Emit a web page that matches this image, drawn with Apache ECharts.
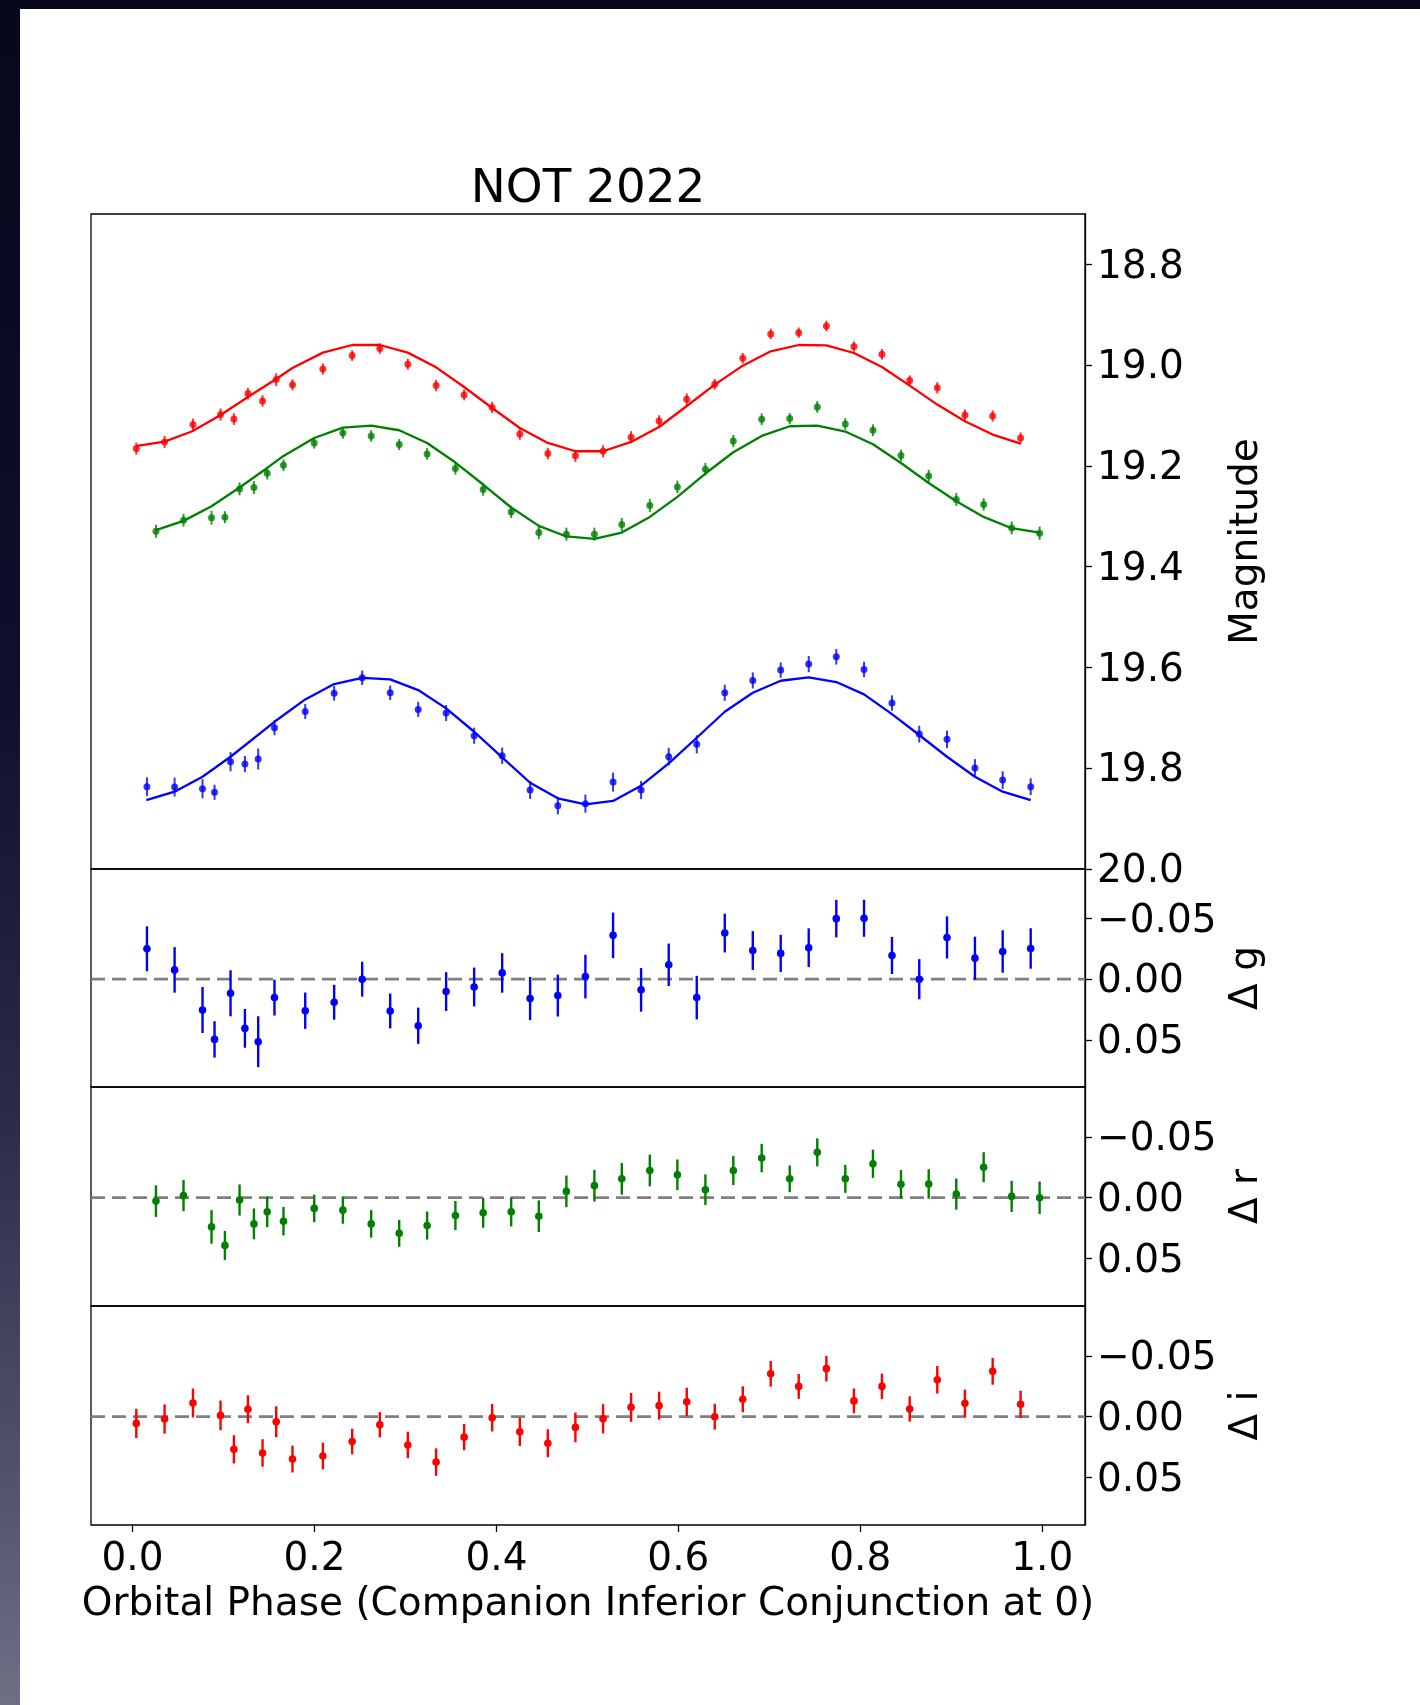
<!DOCTYPE html>
<html>
<head>
<meta charset="utf-8">
<title>NOT 2022 light curves</title>
<script src="https://cdn.jsdelivr.net/npm/echarts@6/dist/echarts.min.js"></script>
<style>
  html, body { margin: 0; padding: 0; background: #ffffff; }
  #chart { width: 1420px; height: 1705px; }
</style>
</head>
<body>
<div id="chart"></div>
<script>
// ---- g band (blue) ----
const gPhase = [0.0158, 0.0462, 0.0769, 0.0901, 0.1077, 0.1235, 0.1381, 0.1560, 0.1898, 0.2216, 0.2524, 0.2832, 0.3140, 0.3447, 0.3755, 0.4063, 0.4370, 0.4675, 0.4978, 0.5282, 0.5590, 0.5894, 0.6202, 0.6510, 0.6818, 0.7125, 0.7433, 0.7736, 0.8041, 0.8348, 0.8648, 0.8953, 0.9260, 0.9565, 0.9873];
const gMag = [19.8367, 19.8373, 19.8406, 19.8478, 19.7871, 19.7917, 19.7817, 19.7197, 19.6872, 19.6514, 19.6205, 19.6503, 19.6832, 19.6906, 19.7355, 19.7752, 19.8432, 19.8743, 19.8703, 19.8275, 19.8432, 19.7771, 19.7526, 19.6503, 19.6258, 19.6052, 19.5933, 19.5789, 19.6039, 19.6707, 19.7322, 19.7427, 19.7996, 19.8234, 19.8367];
const gErr = [0.0186, 0.0188, 0.0190, 0.0150, 0.0190, 0.0160, 0.0210, 0.0148, 0.0150, 0.0144, 0.0144, 0.0144, 0.0150, 0.0160, 0.0160, 0.0163, 0.0178, 0.0173, 0.0180, 0.0188, 0.0180, 0.0175, 0.0180, 0.0160, 0.0160, 0.0153, 0.0160, 0.0155, 0.0153, 0.0153, 0.0166, 0.0174, 0.0177, 0.0175, 0.0167];
const gResid = [-0.0251, -0.0077, 0.0254, 0.0497, 0.0116, 0.0406, 0.0516, 0.0152, 0.0260, 0.0190, 0.0000, 0.0262, 0.0384, 0.0102, 0.0064, -0.0052, 0.0160, 0.0135, -0.0022, -0.0362, 0.0088, -0.0119, 0.0152, -0.0381, -0.0237, -0.0213, -0.0260, -0.0500, -0.0503, -0.0196, 0.0000, -0.0345, -0.0174, -0.0229, -0.0254];
const gModelPhase = [0.0151, 0.0462, 0.0769, 0.1077, 0.1560, 0.1898, 0.2216, 0.2524, 0.2832, 0.3140, 0.3447, 0.3755, 0.4063, 0.4370, 0.4675, 0.4978, 0.5282, 0.5590, 0.5894, 0.6202, 0.6510, 0.6818, 0.7125, 0.7433, 0.7736, 0.8041, 0.8348, 0.8648, 0.8953, 0.9260, 0.9565, 0.9873];
const gModelMag = [19.8631, 19.8466, 19.8169, 19.7772, 19.7078, 19.6634, 19.6330, 19.6205, 19.6237, 19.6449, 19.6812, 19.7276, 19.7784, 19.8288, 19.8598, 19.8717, 19.8650, 19.8347, 19.7903, 19.7395, 19.6879, 19.6503, 19.6264, 19.6197, 19.6290, 19.6534, 19.6925, 19.7341, 19.7772, 19.8169, 19.8466, 19.8631];

// ---- r band (green) ----
const rPhase = [0.0257, 0.0560, 0.0868, 0.1015, 0.1176, 0.1334, 0.1480, 0.1659, 0.1997, 0.2312, 0.2623, 0.2931, 0.3238, 0.3549, 0.3854, 0.4162, 0.4466, 0.4769, 0.5077, 0.5378, 0.5686, 0.5989, 0.6297, 0.6604, 0.6916, 0.7224, 0.7527, 0.7835, 0.8139, 0.8447, 0.8752, 0.9055, 0.9356, 0.9664, 0.9971];
const rMag = [19.3296, 19.3077, 19.3030, 19.3018, 19.2456, 19.2429, 19.2145, 19.1987, 19.1544, 19.1346, 19.1405, 19.1576, 19.1762, 19.2052, 19.2469, 19.2913, 19.3322, 19.3355, 19.3355, 19.3163, 19.2786, 19.2417, 19.2066, 19.1504, 19.1074, 19.1061, 19.0830, 19.1167, 19.1292, 19.1794, 19.2199, 19.2667, 19.2766, 19.3230, 19.3335];
const rErr = [0.0130, 0.0128, 0.0138, 0.0119, 0.0128, 0.0127, 0.0126, 0.0117, 0.0113, 0.0112, 0.0113, 0.0110, 0.0115, 0.0120, 0.0123, 0.0120, 0.0130, 0.0130, 0.0130, 0.0130, 0.0130, 0.0126, 0.0126, 0.0120, 0.0117, 0.0110, 0.0115, 0.0115, 0.0116, 0.0117, 0.0121, 0.0128, 0.0123, 0.0128, 0.0133];
const rResid = [0.0028, -0.0017, 0.0240, 0.0392, 0.0019, 0.0215, 0.0116, 0.0193, 0.0088, 0.0102, 0.0215, 0.0293, 0.0229, 0.0146, 0.0124, 0.0116, 0.0152, -0.0052, -0.0099, -0.0155, -0.0224, -0.0188, -0.0066, -0.0224, -0.0326, -0.0155, -0.0373, -0.0155, -0.0279, -0.0110, -0.0113, -0.0030, -0.0251, -0.0011, 0.0000];
const rModelPhase = [0.0257, 0.0560, 0.0868, 0.1176, 0.1480, 0.1659, 0.1997, 0.2312, 0.2623, 0.2931, 0.3238, 0.3549, 0.3854, 0.4162, 0.4466, 0.4769, 0.5077, 0.5378, 0.5686, 0.5989, 0.6297, 0.6604, 0.6916, 0.7224, 0.7527, 0.7835, 0.8139, 0.8447, 0.8752, 0.9055, 0.9356, 0.9664, 0.9971];
const rModelMag = [19.3276, 19.3091, 19.2800, 19.2429, 19.2040, 19.1802, 19.1445, 19.1239, 19.1200, 19.1292, 19.1544, 19.1933, 19.2369, 19.2825, 19.3190, 19.3400, 19.3448, 19.3322, 19.3012, 19.2615, 19.2151, 19.1729, 19.1405, 19.1213, 19.1200, 19.1318, 19.1570, 19.1941, 19.2338, 19.2700, 19.3012, 19.3236, 19.3322];

// ---- i band (red) ----
const iPhase = [0.0041, 0.0352, 0.0664, 0.0967, 0.1114, 0.1268, 0.1429, 0.1579, 0.1758, 0.2092, 0.2414, 0.2718, 0.3026, 0.3337, 0.3645, 0.3953, 0.4257, 0.4565, 0.4868, 0.5172, 0.5480, 0.5788, 0.6092, 0.6400, 0.6708, 0.7015, 0.7323, 0.7627, 0.7930, 0.8238, 0.8543, 0.8846, 0.9150, 0.9455, 0.9762];
const iMag = [19.1656, 19.1524, 19.1180, 19.0980, 19.1070, 19.0565, 19.0710, 19.0287, 19.0390, 19.0076, 18.9810, 18.9670, 18.9980, 19.0406, 19.0590, 19.0840, 19.1366, 19.1755, 19.1800, 19.1709, 19.1430, 19.1108, 19.0678, 19.0380, 18.9864, 18.9380, 18.9355, 18.9223, 18.9630, 18.9785, 19.0307, 19.0450, 19.0990, 19.1009, 19.1445];
const iErr = [0.0120, 0.0120, 0.0119, 0.0122, 0.0116, 0.0115, 0.0113, 0.0127, 0.0110, 0.0110, 0.0105, 0.0104, 0.0109, 0.0113, 0.0108, 0.0113, 0.0117, 0.0115, 0.0122, 0.0120, 0.0119, 0.0115, 0.0116, 0.0106, 0.0106, 0.0106, 0.0102, 0.0105, 0.0102, 0.0105, 0.0104, 0.0113, 0.0112, 0.0110, 0.0112];
const iResid = [0.0055, 0.0019, -0.0113, -0.0011, 0.0268, -0.0061, 0.0298, 0.0041, 0.0348, 0.0323, 0.0204, 0.0066, 0.0232, 0.0373, 0.0168, 0.0008, 0.0124, 0.0218, 0.0088, 0.0017, -0.0077, -0.0091, -0.0122, 0.0000, -0.0144, -0.0353, -0.0249, -0.0395, -0.0130, -0.0249, -0.0064, -0.0304, -0.0110, -0.0373, -0.0102];
const iModelPhase = [0.0048, 0.0352, 0.0656, 0.0964, 0.1268, 0.1579, 0.1758, 0.2092, 0.2414, 0.2718, 0.3026, 0.3337, 0.3645, 0.3953, 0.4257, 0.4565, 0.4868, 0.5172, 0.5480, 0.5788, 0.6092, 0.6400, 0.6708, 0.7015, 0.7323, 0.7627, 0.7930, 0.8238, 0.8543, 0.8846, 0.9150, 0.9455, 0.9762];
const iModelMag = [19.1603, 19.1517, 19.1312, 19.0995, 19.0632, 19.0275, 19.0057, 18.9751, 18.9600, 18.9600, 18.9751, 19.0043, 19.0433, 19.0850, 19.1247, 19.1544, 19.1709, 19.1709, 19.1524, 19.1227, 19.0810, 19.0386, 19.0010, 18.9726, 18.9600, 18.9606, 18.9759, 19.0036, 19.0406, 19.0783, 19.1114, 19.1378, 19.1556];

// ---- axis ticks and labels ----
const phaseTicks = [0.0, 0.2, 0.4, 0.6, 0.8, 1.0];
const magTicks = [18.8, 19.0, 19.2, 19.4, 19.6, 19.8, 20.0];
const residTicks = [-0.05, 0.0, 0.05];
const residNames = ['\u0394 g', '\u0394 r', '\u0394 i'];

const FONT = 'DejaVu Sans';
const FS = 39;
const X_MIN = -0.0457, X_MAX = 1.047;
const MAG_MIN = 18.70, MAG_MAX = 20.0;
const RES_MIN = -0.091, RES_MAX = 0.089;

const PLOT_LEFT = 91, PLOT_RIGHT = 1085;
const panels = [
  { top: 214, bottom: 869 },
  { top: 869, bottom: 1087 },
  { top: 1087, bottom: 1306 },
  { top: 1306, bottom: 1525 }
];

const C_BLUE = '#0000ff', C_GREEN = '#008000', C_RED = '#ff0000';
const A_BLUE = 'rgba(0,0,255,0.8)', A_GREEN = 'rgba(0,128,0,0.8)', A_RED = 'rgba(255,0,0,0.8)';

const chart = echarts.init(document.getElementById('chart'), null, { renderer: 'canvas' });

const grids = panels.map(p => ({
  left: PLOT_LEFT, width: PLOT_RIGHT - PLOT_LEFT,
  top: p.top, height: p.bottom - p.top,
  show: true, borderColor: '#000', borderWidth: 1.3,
  backgroundColor: 'transparent', containLabel: false
}));

const xAxes = panels.map((p, k) => {
  const last = k === panels.length - 1;
  return {
    type: 'value', gridIndex: k, min: X_MIN, max: X_MAX,
    axisLine: { show: false, onZero: false },
    splitLine: { show: false },
    axisTick: { show: last, length: 7, lineStyle: { color: '#000', width: 1.3 }, customValues: phaseTicks },
    axisLabel: {
      show: last, customValues: phaseTicks, margin: 15,
      fontFamily: FONT, fontSize: FS, color: '#000',
      formatter: v => v.toFixed(1)
    }
  };
});

// tick text sits a little below the tick centre
const tickRich = { t: { fontFamily: FONT, fontSize: FS, color: '#000', padding: [6, 0, 0, 0] } };

const yTickCommon = { length: 7, lineStyle: { color: '#000', width: 1.3 } };
const yAxes = panels.map((p, k) => {
  const main = k === 0;
  const ticks = main ? magTicks : residTicks;
  const fmt = main
    ? (v => v.toFixed(1))
    : (v => (v < 0 ? '\u2212' : '') + Math.abs(v).toFixed(2));
  return {
    type: 'value', gridIndex: k, position: 'right', inverse: true,
    min: main ? MAG_MIN : RES_MIN, max: main ? MAG_MAX : RES_MAX,
    axisLine: { show: true, onZero: false, lineStyle: { color: '#000', width: 1.3 } },
    splitLine: { show: false },
    axisTick: Object.assign({ show: true, customValues: ticks }, yTickCommon),
    axisLabel: {
      show: true, customValues: ticks, margin: 12,
      fontFamily: FONT, fontSize: FS, color: '#000',
      formatter: v => '{t|' + fmt(v) + '}',
      rich: tickRich
    }
  };
});

// Points with vertical error bars, placed through the axis scales.
function errorSeries(name, phase, values, errs, color, r, lw, axis) {
  return {
    name: name, type: 'custom', xAxisIndex: axis, yAxisIndex: axis, z: 3,
    data: phase.map((p, k) => [p, values[k], errs[k]]),
    encode: { x: 0, y: 1 },
    renderItem: (params, api) => {
      const x = api.value(0), y = api.value(1), e = api.value(2);
      const a = api.coord([x, y - e]);
      const b = api.coord([x, y + e]);
      const c = api.coord([x, y]);
      return {
        type: 'group',
        children: [
          { type: 'line', shape: { x1: a[0], y1: a[1], x2: b[0], y2: b[1] },
            style: { stroke: color, lineWidth: lw } },
          { type: 'circle', shape: { cx: c[0], cy: c[1], r: r },
            style: { fill: color } }
        ]
      };
    }
  };
}

function modelSeries(name, phase, mags, color) {
  return {
    name: name, type: 'line', xAxisIndex: 0, yAxisIndex: 0, z: 4,
    data: phase.map((p, k) => [p, mags[k]]),
    showSymbol: false, symbol: 'none', smooth: false,
    lineStyle: { color: color, width: 2.3 }
  };
}

function zeroLine(axis) {
  return {
    type: 'line', xAxisIndex: axis, yAxisIndex: axis, z: 2,
    data: [[X_MIN, 0], [X_MAX, 0]],
    showSymbol: false, symbol: 'none', silent: true,
    lineStyle: { color: '#808080', width: 2.8, type: [14, 7] }
  };
}

const series = [
  errorSeries('g', gPhase, gMag, gErr, A_BLUE, 3.5, 2.0, 0),
  errorSeries('r', rPhase, rMag, rErr, A_GREEN, 3.5, 2.0, 0),
  errorSeries('i', iPhase, iMag, iErr, A_RED, 3.5, 2.0, 0),
  modelSeries('g model', gModelPhase, gModelMag, C_BLUE),
  modelSeries('r model', rModelPhase, rModelMag, C_GREEN),
  modelSeries('i model', iModelPhase, iModelMag, C_RED),
  zeroLine(1), zeroLine(2), zeroLine(3),
  errorSeries('g resid', gPhase, gResid, gErr, C_BLUE, 3.8, 2.4, 1),
  errorSeries('r resid', rPhase, rResid, rErr, C_GREEN, 3.8, 2.4, 2),
  errorSeries('i resid', iPhase, iResid, iErr, C_RED, 3.8, 2.4, 3)
];

function label(text, x, y, size, rotate) {
  return {
    type: 'text', x: x, y: y, rotation: rotate ? Math.PI / 2 : 0, z: 10,
    style: {
      text: text, fill: '#000', font: size + 'px "' + FONT + '"',
      fontSize: size, fontFamily: FONT,
      align: 'center', verticalAlign: 'middle',
      textAlign: 'center', textVerticalAlign: 'middle'
    }
  };
}

const frameGradient = new echarts.graphic.LinearGradient(0, 0, 0, 1, [
  { offset: 0, color: '#07071c' },
  { offset: 0.4, color: '#0f0f2c' },
  { offset: 0.65, color: '#2b2b48' },
  { offset: 0.88, color: '#55556f' },
  { offset: 1, color: '#6f6f86' }
]);

const panelMid = panels.map(p => (p.top + p.bottom) / 2);

const graphics = [
  { type: 'rect', z: -10, shape: { x: 0, y: 0, width: 20, height: 1705 }, style: { fill: frameGradient } },
  { type: 'rect', z: -10, shape: { x: 0, y: 0, width: 1420, height: 9 }, style: { fill: '#07071c' } },
  label('NOT 2022', (PLOT_LEFT + PLOT_RIGHT) / 2, 190, 46.8, false),
  label('Magnitude', 1247, panelMid[0], FS, true),
  label(residNames[0], 1247, panelMid[1], FS, true),
  label(residNames[1], 1247, panelMid[2], FS, true),
  label(residNames[2], 1247, panelMid[3], FS, true),
  label('Orbital Phase (Companion Inferior Conjunction at 0)', (PLOT_LEFT + PLOT_RIGHT) / 2, 1605, FS, false)
];

chart.setOption({
  backgroundColor: '#ffffff',
  animation: false,
  grid: grids,
  xAxis: xAxes,
  yAxis: yAxes,
  series: series,
  graphic: graphics
});
</script>
</body>
</html>
